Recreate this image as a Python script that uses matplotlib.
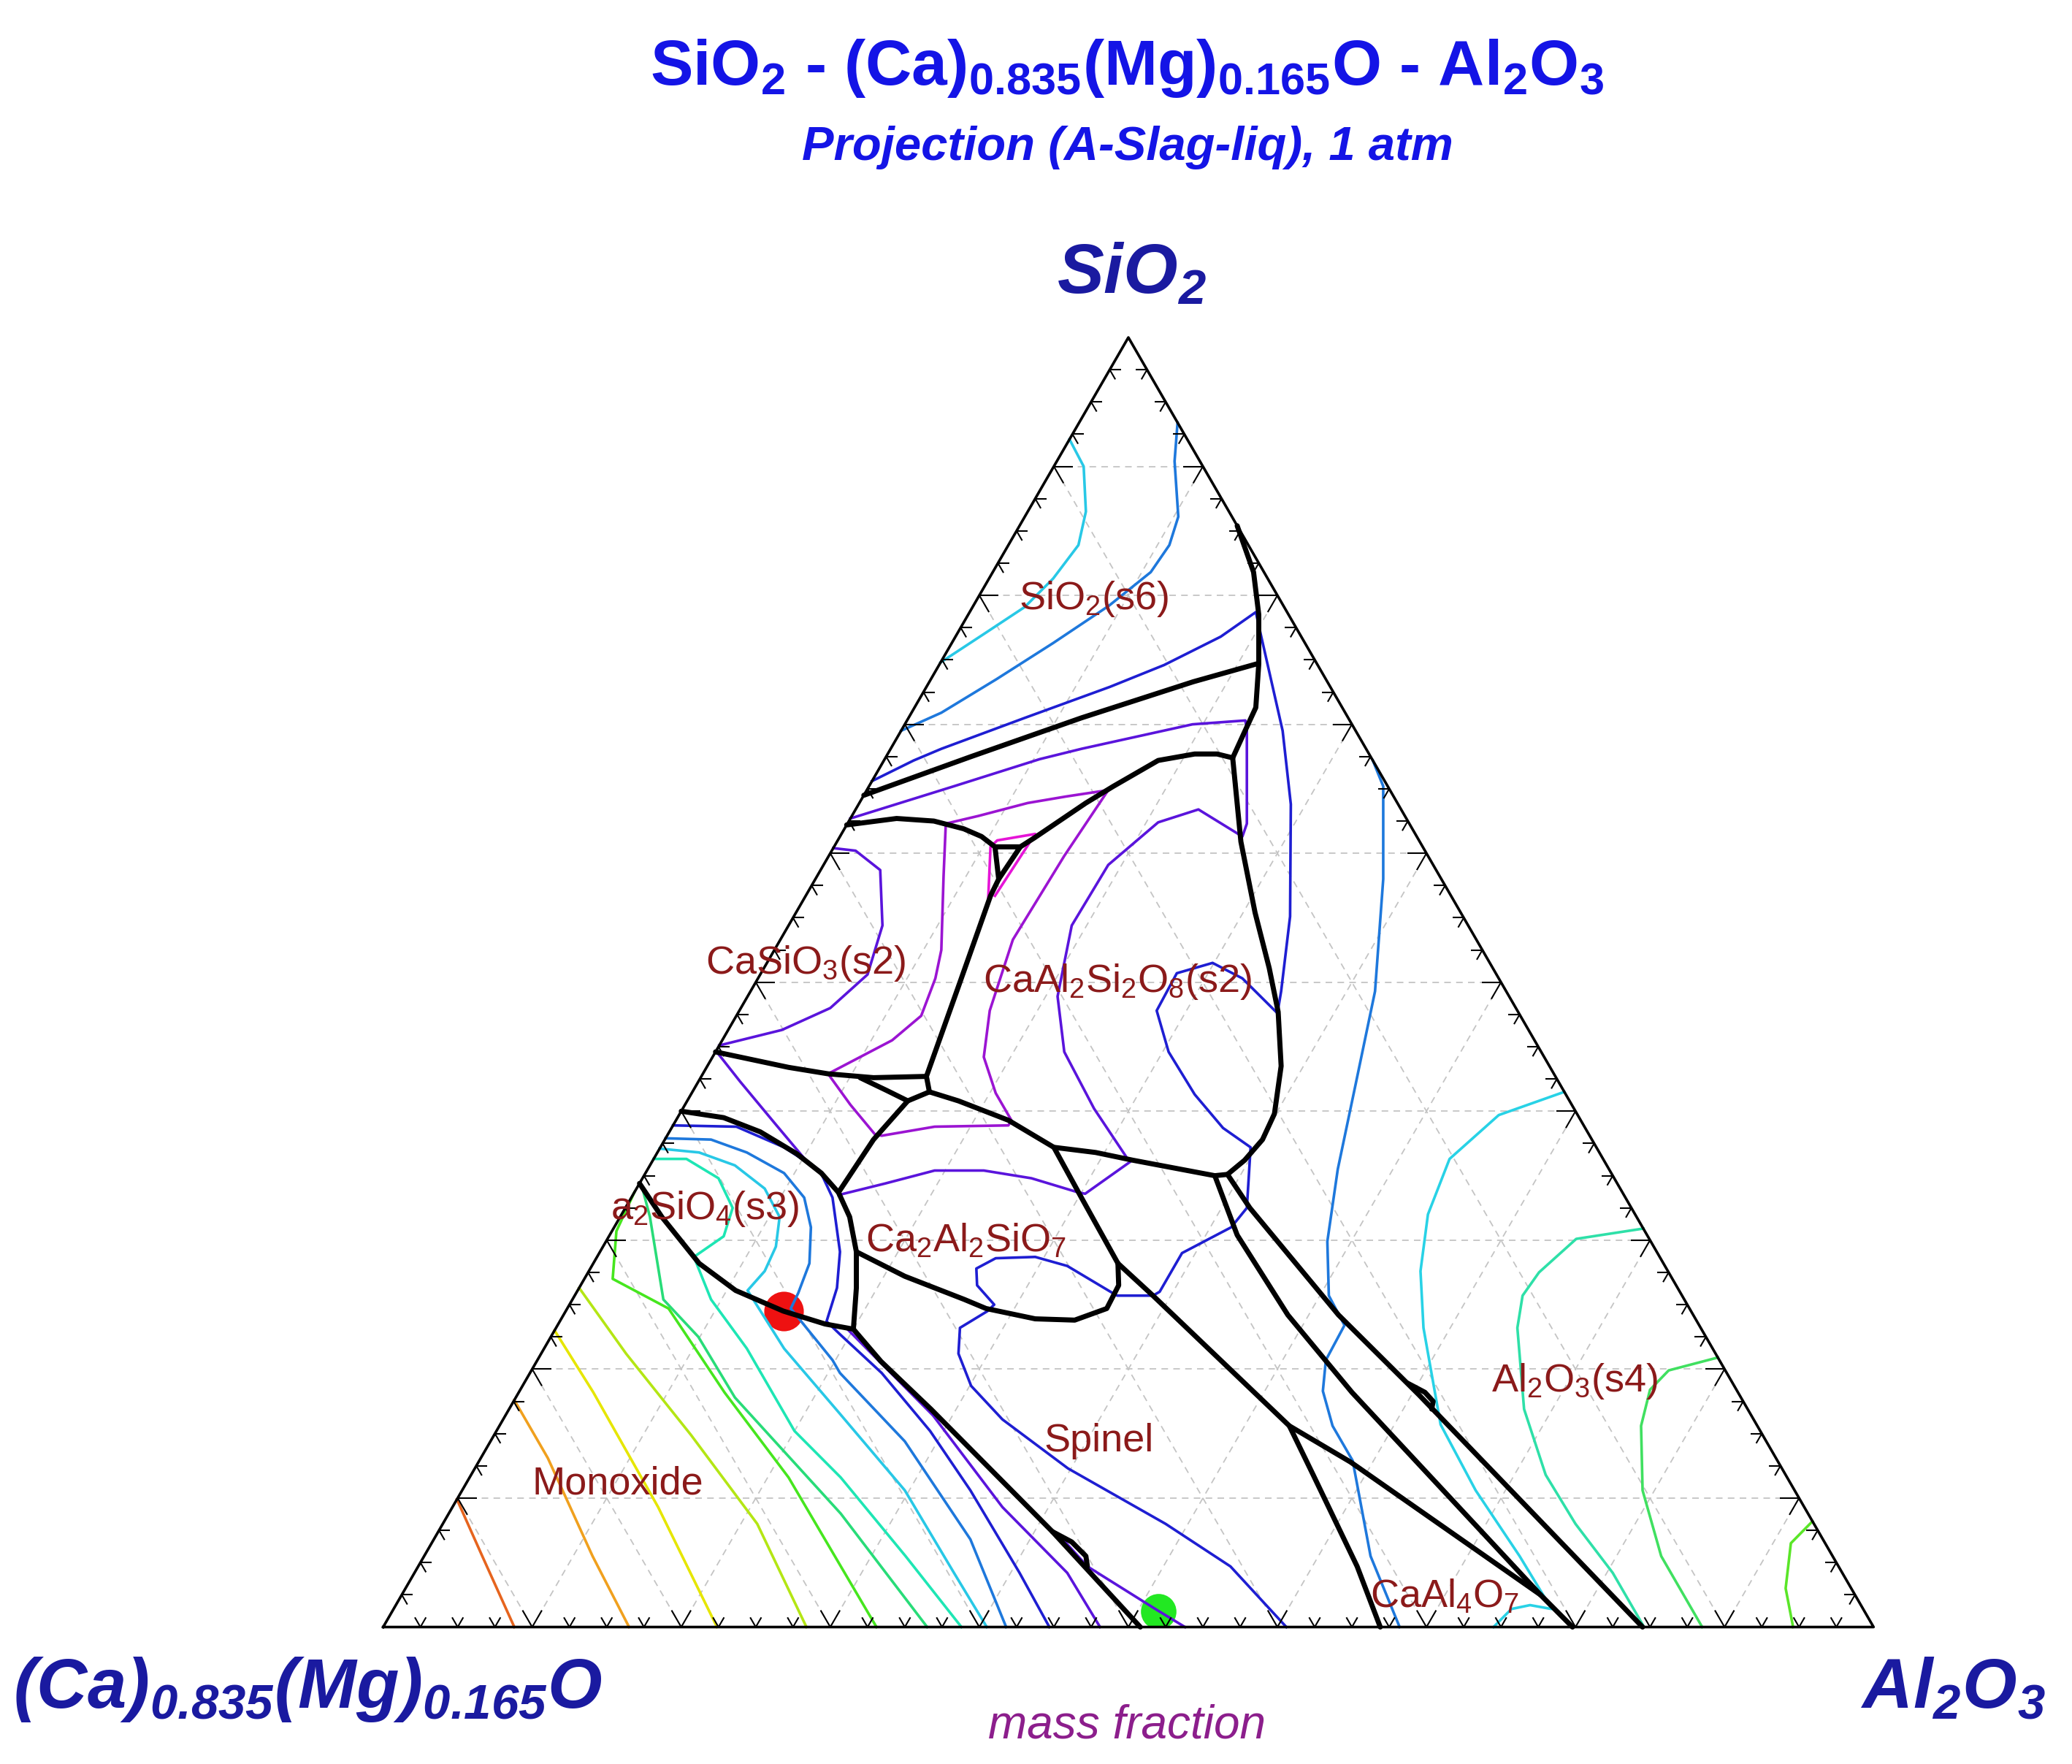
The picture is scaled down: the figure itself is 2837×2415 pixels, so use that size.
import numpy as np
import matplotlib.pyplot as plt
from matplotlib import font_manager
from matplotlib.collections import LineCollection

# all compositions are (SiO2, Al2O3) mass fractions, (Ca)0.835(Mg)0.165O is the rest

# ---- phase boundaries ----
b_sio2 = [(0.645, 0.000), (0.675, 0.057), (0.705, 0.116), (0.733, 0.177), (0.747, 0.213)]
b_mullite = [(0.854, 0.146), (0.818, 0.175), (0.785, 0.195), (0.747, 0.214), (0.713, 0.229),
             (0.693, 0.231), (0.674, 0.233)]
b_anorth_right = [(0.674, 0.233), (0.609, 0.271), (0.554, 0.308), (0.511, 0.339), (0.477, 0.362),
                  (0.435, 0.385), (0.398, 0.399), (0.378, 0.401), (0.362, 0.397), (0.351, 0.391)]
b_anorth_top = [(0.605, 0.125), (0.612, 0.131), (0.639, 0.152), (0.652, 0.164), (0.672, 0.184),
                (0.677, 0.206), (0.677, 0.221), (0.674, 0.233)]
b_woll_top = [(0.622, 0.000), (0.627, 0.031), (0.625, 0.057), (0.619, 0.080), (0.613, 0.095),
              (0.605, 0.108)]
b_small_tri = [(0.605, 0.108), (0.605, 0.125), (0.580, 0.123), (0.605, 0.108)]
b_woll_right = [(0.580, 0.123), (0.567, 0.124), (0.500, 0.137), (0.427, 0.151), (0.415, 0.159)]
b_woll_bottom = [(0.446, 0.000), (0.434, 0.055), (0.429, 0.084), (0.426, 0.116), (0.427, 0.151)]
b_rank_right = [(0.426, 0.107), (0.416, 0.130), (0.408, 0.148), (0.415, 0.159)]
b_rank_low = [(0.408, 0.148), (0.378, 0.140), (0.337, 0.137)]
b_anorth_bottom = [(0.415, 0.159), (0.408, 0.182), (0.393, 0.223), (0.372, 0.264), (0.368, 0.294),
                   (0.362, 0.322), (0.350, 0.383), (0.351, 0.391)]
b_c2s_top = [(0.400, 0.000), (0.395, 0.031), (0.384, 0.061), (0.367, 0.094), (0.352, 0.118),
             (0.337, 0.137), (0.318, 0.154), (0.291, 0.172), (0.263, 0.186), (0.231, 0.200)]
b_c2s_low = [(0.344, 0.000), (0.318, 0.028), (0.282, 0.071), (0.261, 0.106), (0.245, 0.146),
             (0.235, 0.179), (0.231, 0.200)]
b_mono_spinel = [(0.231, 0.200), (0.206, 0.231), (0.169, 0.283), (0.074, 0.412), (0.000, 0.508)]
b_mono_sliver = [(0.074, 0.412), (0.066, 0.429), (0.055, 0.444), (0.047, 0.449)]
b_gehl_right = [(0.372, 0.264), (0.333, 0.302), (0.282, 0.352)]
b_gehl_bottom = [(0.291, 0.172), (0.272, 0.214), (0.254, 0.263), (0.247, 0.281), (0.239, 0.318),
                 (0.238, 0.345), (0.247, 0.362), (0.265, 0.361), (0.282, 0.352)]
b_spinel_right = [(0.282, 0.352), (0.257, 0.388), (0.156, 0.530), (0.128, 0.585), (0.025, 0.764)]
b_ca4_left = [(0.156, 0.530), (0.118, 0.565), (0.047, 0.630), (0.000, 0.669)]
b_line_a = [(0.350, 0.383), (0.304, 0.421), (0.242, 0.486), (0.182, 0.559), (0.025, 0.764),
            (0.000, 0.798)]
b_line_b = [(0.351, 0.391), (0.325, 0.419), (0.242, 0.520), (0.180, 0.605), (0.000, 0.845)]
b_line_b_sliver = [(0.189, 0.593), (0.182, 0.608), (0.175, 0.617), (0.169, 0.619)]

# ---- liquidus isotherms ----
iso_cyan_sio2 = [(0.921, 0.000), (0.900, 0.020), (0.865, 0.039), (0.839, 0.047), (0.813, 0.043),
                 (0.791, 0.035), (0.770, 0.018), (0.748, 0.000)]
iso_azure_sio2 = [(0.934, 0.066), (0.904, 0.079), (0.861, 0.103), (0.839, 0.108), (0.818, 0.106),
                  (0.792, 0.091), (0.763, 0.068), (0.735, 0.044), (0.709, 0.020), (0.695, 0.000)]
iso_blue = [(0.656, 0.000), (0.672, 0.020), (0.681, 0.034), (0.705, 0.078), (0.729, 0.123),
            (0.746, 0.151), (0.768, 0.178), (0.787, 0.192), (0.774, 0.201), (0.695, 0.256),
            (0.638, 0.290), (0.551, 0.333), (0.493, 0.356), (0.476, 0.362), (0.503, 0.325),
            (0.515, 0.299), (0.507, 0.279), (0.478, 0.280), (0.446, 0.304), (0.413, 0.338),
            (0.387, 0.370), (0.372, 0.396), (0.325, 0.417), (0.310, 0.414), (0.290, 0.391),
            (0.260, 0.391), (0.257, 0.388), (0.257, 0.364), (0.260, 0.358), (0.280, 0.319),
            (0.287, 0.294), (0.286, 0.268), (0.278, 0.259), (0.265, 0.266), (0.250, 0.285),
            (0.245, 0.283), (0.232, 0.271), (0.212, 0.280), (0.187, 0.301), (0.161, 0.335),
            (0.123, 0.398), (0.080, 0.485), (0.047, 0.545), (0.000, 0.606)]
iso_violet = [(0.627, 0.000), (0.652, 0.057), (0.673, 0.104), (0.681, 0.128), (0.700, 0.193),
              (0.703, 0.227), (0.695, 0.232), (0.661, 0.249), (0.623, 0.268), (0.613, 0.270),
              (0.634, 0.230), (0.624, 0.208), (0.591, 0.191), (0.544, 0.190), (0.489, 0.208),
              (0.446, 0.234), (0.402, 0.276), (0.363, 0.318), (0.361, 0.321), (0.336, 0.303),
              (0.337, 0.298), (0.348, 0.261), (0.354, 0.226), (0.354, 0.193), (0.344, 0.165),
              (0.335, 0.138)]
iso_violet_woll = [(0.604, 0.000), (0.602, 0.016), (0.587, 0.040), (0.544, 0.063), (0.506, 0.072),
                   (0.480, 0.060), (0.463, 0.036), (0.451, 0.000)]
iso_violet_rank = [(0.445, 0.002), (0.423, 0.028), (0.391, 0.067), (0.360, 0.105)]
iso_violet_mono = [(0.231, 0.196), (0.164, 0.287), (0.093, 0.369), (0.042, 0.438), (0.000, 0.481)]
iso_violet_spinel = [(0.068, 0.422), (0.047, 0.449), (0.013, 0.513), (0.000, 0.538)]
iso_purple = [(0.429, 0.084), (0.455, 0.114), (0.474, 0.124), (0.503, 0.119), (0.525, 0.112),
              (0.582, 0.085), (0.623, 0.066), (0.629, 0.085), (0.639, 0.113), (0.644, 0.136),
              (0.649, 0.162), (0.598, 0.158), (0.533, 0.156), (0.478, 0.168), (0.442, 0.182),
              (0.414, 0.204), (0.393, 0.225), (0.389, 0.225), (0.388, 0.176), (0.381, 0.144),
              (0.382, 0.139), (0.405, 0.111), (0.429, 0.084)]
iso_magenta = [(0.566, 0.123), (0.605, 0.105), (0.610, 0.107), (0.615, 0.130), (0.567, 0.127)]
iso_blue_c2s = [(0.389, 0.000), (0.388, 0.043), (0.372, 0.083), (0.354, 0.116), (0.333, 0.135),
                (0.291, 0.161), (0.263, 0.173), (0.237, 0.179), (0.227, 0.193), (0.197, 0.236),
                (0.152, 0.291), (0.106, 0.341), (0.042, 0.406), (0.000, 0.447)]
iso_azure_c2s = [(0.379, 0.000), (0.378, 0.031), (0.368, 0.060), (0.352, 0.093), (0.333, 0.116),
                 (0.310, 0.132), (0.282, 0.145), (0.259, 0.149), (0.247, 0.150), (0.207, 0.198),
                 (0.197, 0.208), (0.144, 0.278), (0.068, 0.360), (0.000, 0.418)]
iso_cyan_c2s = [(0.371, 0.000), (0.368, 0.028), (0.358, 0.057), (0.340, 0.086), (0.318, 0.107),
                (0.295, 0.116), (0.276, 0.118), (0.261, 0.114), (0.216, 0.161), (0.166, 0.223),
                (0.106, 0.297), (0.042, 0.362), (0.000, 0.405)]
iso_aqua_c2s = [(0.363, 0.000), (0.363, 0.022), (0.348, 0.051), (0.325, 0.072), (0.303, 0.077),
                (0.287, 0.065), (0.254, 0.093), (0.216, 0.136), (0.152, 0.200), (0.116, 0.249),
                (0.055, 0.323), (0.000, 0.388)]
iso_spring_mono = [(0.340, 0.004), (0.318, 0.020), (0.254, 0.061), (0.225, 0.099), (0.178, 0.147),
                   (0.088, 0.263), (0.000, 0.365)]
iso_green_mono = [(0.337, 0.000), (0.307, 0.003), (0.270, 0.019), (0.247, 0.068), (0.182, 0.138),
                  (0.116, 0.214), (0.000, 0.331)]
iso_lime_mono = [(0.263, 0.000), (0.212, 0.057), (0.149, 0.132), (0.080, 0.211), (0.000, 0.284)]
iso_yellow_mono = [(0.230, 0.000), (0.182, 0.050), (0.093, 0.138), (0.000, 0.224)]
iso_orange_mono = [(0.176, 0.000), (0.131, 0.045), (0.055, 0.113), (0.000, 0.165)]
iso_red_mono = [(0.099, 0.000), (0.055, 0.039), (0.000, 0.088)]
iso_azure_al = [(0.672, 0.328), (0.652, 0.345), (0.580, 0.381), (0.493, 0.419), (0.421, 0.442),
                (0.355, 0.463), (0.299, 0.484), (0.257, 0.506), (0.234, 0.528), (0.207, 0.529),
                (0.183, 0.539), (0.156, 0.559), (0.129, 0.586), (0.055, 0.635), (0.000, 0.682)]
iso_cyan_al = [(0.415, 0.585), (0.397, 0.550), (0.363, 0.534), (0.320, 0.541), (0.276, 0.558),
               (0.232, 0.582), (0.157, 0.631), (0.106, 0.680), (0.055, 0.735), (0.014, 0.777),
               (0.017, 0.761), (0.014, 0.750), (0.000, 0.745)]
iso_aqua_al = [(0.309, 0.691), (0.301, 0.650), (0.275, 0.638), (0.257, 0.636), (0.232, 0.645),
               (0.169, 0.681), (0.118, 0.721), (0.080, 0.760), (0.042, 0.804), (0.000, 0.846)]
iso_green_al = [(0.209, 0.791), (0.199, 0.763), (0.184, 0.758), (0.156, 0.766), (0.106, 0.792),
                (0.055, 0.830), (0.025, 0.860), (0.000, 0.885)]
iso_lime_al = [(0.082, 0.918), (0.065, 0.912), (0.030, 0.926), (0.000, 0.946)]

# calculated points
red_point = (0.245, 0.146)
green_point = (0.012, 0.514)

# field labels: text, (SiO2, Al2O3) position
field_names = ['SiO$\\mathregular{_2}$(s6)', 'CaSiO$\\mathregular{_3}$(s2)',
               'CaAl$\\mathregular{_2}$Si$\\mathregular{_2}$O$\\mathregular{_8}$(s2)',
               'Ca$\\mathregular{_2}$Al$\\mathregular{_2}$SiO$\\mathregular{_7}$', 'Spinel',
               'Monoxide', 'Al$\\mathregular{_2}$O$\\mathregular{_3}$(s4)',
               'CaAl$\\mathregular{_4}$O$\\mathregular{_7}$']
field_pos = [(0.801, 0.076), (0.5185, 0.024), (0.504, 0.2405), (0.3027, 0.2396), (0.1475, 0.4066),
             (0.1141, 0.1004), (0.194, 0.7024), (0.0269, 0.699)]
c2s_name = 'a$\\mathregular{_2}$SiO$\\mathregular{_4}$(s3)'
c2s_pos = (0.328, -0.0115)

grid_levels = np.arange(1, 10) / 10

# ------------------------------------------------------------------
plt.rcParams['font.family'] = ['Liberation Sans', 'DejaVu Sans']
H = np.sqrt(3) / 2


def to_xy(pts):
    p = np.asarray(pts, dtype=float)
    return p[:, 1] + p[:, 0] / 2, p[:, 0] * H


fig = plt.figure(figsize=(28.37, 24.15), dpi=100)
ax = fig.add_axes([0.18492, 0.07764, 0.71932, 0.73106])
ax.set_xlim(0, 1)
ax.set_ylim(0, H)
ax.axis('off')

# dashed grid
for v in grid_levels:
    for seg in ([(v, 0), (v, 1 - v)], [(0, v), (1 - v, v)], [(0, 1 - v), (1 - v, 0)]):
        x, y = to_xy(seg)
        ax.plot(x, y, color='#c4c4c4', lw=1.3, ls=(0, (5, 4)), zorder=1)

# points
for pt, col, ms in [(red_point, '#ee1111', 39), (green_point, '#22e822', 35)]:
    x, y = to_xy([pt])
    ax.plot(x, y, 'o', color=col, ms=ms, mec='none', zorder=2)

isotherms = [
    (iso_cyan_sio2, '#28c8e6'), (iso_azure_sio2, '#1e78dc'), (iso_blue, '#1e1ed2'),
    (iso_violet, '#5a14dc'), (iso_violet_woll, '#5a14dc'), (iso_violet_rank, '#5a14dc'),
    (iso_violet_mono, '#5a14dc'), (iso_violet_spinel, '#5a14dc'), (iso_purple, '#9b14d2'),
    (iso_magenta, '#e614d7'), (iso_blue_c2s, '#1e1ed2'), (iso_azure_c2s, '#1e78dc'),
    (iso_cyan_c2s, '#28c8e6'), (iso_aqua_c2s, '#1ee6b4'), (iso_spring_mono, '#28dc78'),
    (iso_green_mono, '#46e61e'), (iso_lime_mono, '#b4e614'), (iso_yellow_mono, '#e6e600'),
    (iso_orange_mono, '#f0a01e'), (iso_red_mono, '#e6641e'), (iso_azure_al, '#1e78dc'),
    (iso_cyan_al, '#28d2e6'), (iso_aqua_al, '#2ee0a8'), (iso_green_al, '#40e060'),
    (iso_lime_al, '#5ae628'),
]
for pts, col in isotherms:
    x, y = to_xy(pts)
    ax.plot(x, y, color=col, lw=2.6, zorder=3, solid_joinstyle='round', clip_on=False)

boundaries = [b_sio2, b_mullite, b_anorth_right, b_anorth_top, b_woll_top, b_small_tri,
              b_woll_right, b_woll_bottom, b_rank_right, b_rank_low, b_anorth_bottom, b_c2s_top,
              b_c2s_low, b_mono_spinel, b_mono_sliver, b_gehl_right, b_gehl_bottom,
              b_spinel_right, b_ca4_left, b_line_a, b_line_b, b_line_b_sliver]
for pts in boundaries:
    x, y = to_xy(pts)
    ax.plot(x, y, color='black', lw=5.0, zorder=4, solid_joinstyle='round',
            solid_capstyle='round', clip_on=False)

# triangle frame
ax.plot([0, 1, 0.5, 0], [0, 0, H, 0], color='black', lw=2.6, zorder=5, clip_on=False)

# ticks: two short strokes along the other grid directions
segs = []
for k in range(1, 40):
    t = k * 0.025
    L = 0.013 if k % 4 == 0 else 0.0075
    for p, dirs in [((t, 0), [(-0.5, H), (0.5, H)]),
                    ((t / 2, t * H), [(1, 0), (0.5, -H)]),
                    ((1 - t / 2, t * H), [(-1, 0), (-0.5, -H)])]:
        for d in dirs:
            segs.append([p, (p[0] + L * d[0], p[1] + L * d[1])])
ax.add_collection(LineCollection(segs, colors='black', linewidths=1.5, zorder=5))

# field labels
for name, pos in zip(field_names, field_pos):
    x, y = to_xy([pos])
    ax.text(x[0], y[0], name, fontsize=39, color='#8b1a1a', ha='center',
            va='center_baseline', zorder=6)
x, y = to_xy([c2s_pos])
ax.text(x[0], y[0], c2s_name, fontsize=39, color='#8b1a1a', ha='left', va='center_baseline',
        zorder=6)

# titles
names = {f.name for f in font_manager.fontManager.ttflist}
if 'Liberation Sans Narrow' in names:
    title_font, title_size = 'Liberation Sans Narrow', 76
else:
    title_font, title_size = 'Liberation Sans', 63
fig.text(0.5439, 0.9521,
         'SiO$\\mathregular{_2}$ - (Ca)$\\mathregular{_{0.835}}$(Mg)$\\mathregular{_{0.165}}$O'
         ' - Al$\\mathregular{_2}$O$\\mathregular{_3}$',
         family=title_font, fontsize=title_size, weight='bold', color='#1414e6',
         ha='center', va='baseline')
fig.text(0.5443, 0.9093, 'Projection (A-Slag-liq), 1 atm', fontsize=47, weight='bold',
         style='italic', color='#1414e6', ha='center', va='baseline')

vcol = '#1a1aa0'
fig.text(0.546, 0.8337, 'SiO$\\mathregular{_2}$', fontsize=69, weight='bold', style='italic',
         color=vcol, ha='center', va='baseline')
fig.text(0.0064, 0.0320, '(Ca)$\\mathregular{_{0.835}}$(Mg)$\\mathregular{_{0.165}}$O',
         fontsize=69, weight='bold', style='italic', color=vcol, ha='left', va='baseline')
fig.text(0.9873, 0.0320, 'Al$\\mathregular{_2}$O$\\mathregular{_3}$', fontsize=69,
         weight='bold', style='italic', color=vcol, ha='right', va='baseline')
fig.text(0.5440, 0.0149, 'mass fraction', fontsize=46, style='italic', color='#8c1e8c',
         ha='center', va='baseline')

fig.savefig('out.png', dpi=100, facecolor='white')
